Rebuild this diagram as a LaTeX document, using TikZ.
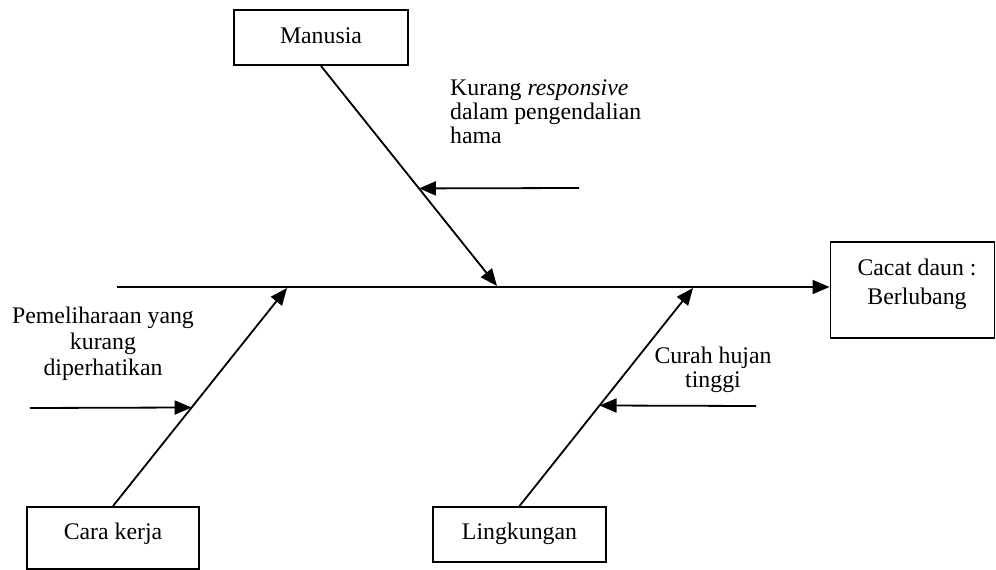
\documentclass[tikz,border=0pt]{standalone}
\usepackage{fontspec}
\setmainfont{Liberation Serif}
\usetikzlibrary{arrows.meta,calc}
\begin{document}
\begin{tikzpicture}[x=1pt,y=-1pt,
  every node/.style={font=\fontsize{23.8}{24}\selectfont, inner sep=0pt},
  box/.style={draw, line width=1.9pt, rectangle},
  bone/.style={line width=1.8pt, -{Triangle[length=17pt,width=14pt]}}]
\useasboundingbox (0,0) rectangle (996,570);
% boxes
\node[box, minimum width=174pt, minimum height=55pt, text height=16pt, text depth=5pt] (manusia) at (321,37.5) {Manusia};
\node[box, minimum width=172pt, minimum height=62pt, text height=16pt, text depth=13pt] (cara) at (113,538) {Cara kerja};
\node[box, minimum width=173pt, minimum height=55pt, text height=16pt, text depth=6pt] (lingk) at (519.5,534.5) {Lingkungan};
\node[box, minimum width=164pt, minimum height=96pt] (cacat) at (912.5,290) {};
\node[anchor=base, align=center, font=\fontsize{23.8}{29}\selectfont] (cacattxt) at (917,304) {Cacat daun :\\Berlubang};
% cause texts
\node[anchor=base west, align=left] (kurang) at (450,143) {Kurang \textit{responsive}\\dalam pengendalian\\hama};
\node[anchor=base, align=center, font=\fontsize{23.8}{26}\selectfont] (pemel) at (103,375) {Pemeliharaan yang\\kurang\\diperhatikan};
\node[anchor=base, align=center] (curah) at (713,387) {Curah hujan\\tinggi};
% spine
\coordinate (s0) at (117,287);
\draw[bone] (s0) -- (s0 -| cacat.west);
% bones
\coordinate (m1) at (497,286);
\coordinate (c1) at (287,288);
\coordinate (l1) at (693,288);
\draw[bone] (manusia.south) -- (m1);
\draw[bone] (cara.north) -- (c1);
\draw[bone] (lingk.north) -- (l1);
% sub-causes
\coordinate (mk) at ($(manusia.south)!{(188-65)/(286-65)}!(m1)$);
\coordinate (k0) at (579,188);
\draw[bone] (k0) -- (mk);
\coordinate (ck) at ($(cara.north)!{(507-408)/(507-288)}!(c1)$);
\coordinate (p0) at (30,408);
\draw[bone] (p0) -- (ck);
\coordinate (lk) at ($(lingk.north)!{(507-406)/(507-288)}!(l1)$);
\coordinate (h0) at (756,406);
\draw[bone] (h0) -- (lk);
\end{tikzpicture}
\end{document}
